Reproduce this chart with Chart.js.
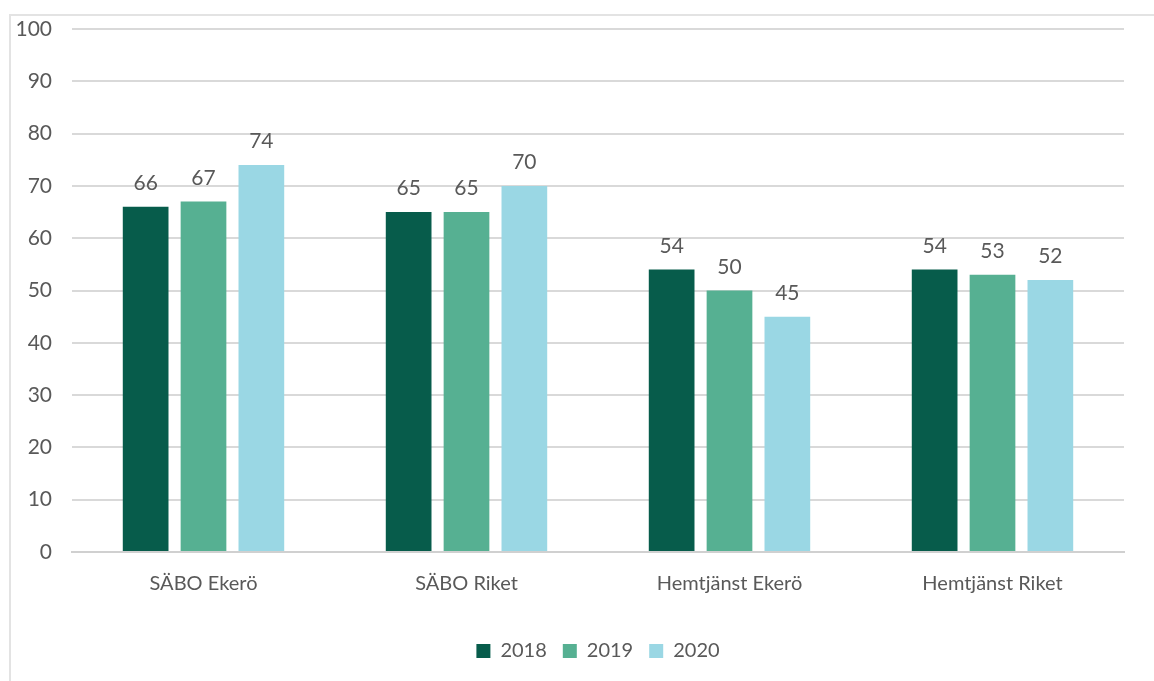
<!DOCTYPE html>
<html>
<head>
<meta charset="utf-8">
<script src="https://cdn.jsdelivr.net/npm/chart.js@4.4.1/dist/chart.umd.min.js"></script>
<style>
  html, body { margin: 0; padding: 0; background: #fff; }
  #wrap { position: relative; width: 1154px; height: 681px; overflow: hidden; }
  #frame {
    position: absolute; left: 9px; top: 14px; right: -4px; bottom: -4px;
    border-top: 2px solid #e3e3e3; border-left: 2px solid #e3e3e3;
  }
  #chart { position: absolute; left: 0; top: 0; }
</style>
</head>
<body>
<div id="wrap">
  <div id="frame"></div>
  <canvas id="chart" width="1154" height="681"></canvas>
</div>
<script>
// categories and series
const categories = ["SÄBO Ekerö", "SÄBO Riket", "Hemtjänst Ekerö", "Hemtjänst Riket"];
const years = ["2018", "2019", "2020"];
const values2018 = [66, 65, 54, 54];
const values2019 = [67, 65, 50, 53];
const values2020 = [74, 70, 45, 52];
const yTicks = [0, 10, 20, 30, 40, 50, 60, 70, 80, 90, 100];

const colors = ["#075c4b", "#56b092", "#9ad7e4"];
const FONT = "Lato, 'Open Sans', sans-serif";

// draws the value above each bar (no datalabels plugin offline)
const valueLabels = {
  id: "valueLabels",
  afterDatasetsDraw(chart) {
    const ctx = chart.ctx;
    ctx.save();
    ctx.font = "21px " + FONT;
    ctx.fillStyle = "#595959";
    ctx.textAlign = "center";
    ctx.textBaseline = "bottom";
    chart.data.datasets.forEach((ds, i) => {
      const meta = chart.getDatasetMeta(i);
      meta.data.forEach((bar, j) => {
        ctx.fillText(String(ds.data[j]), bar.x, bar.y - 13);
      });
    });
    ctx.restore();
  }
};

const seriesValues = [values2018, values2019, values2020];

new Chart(document.getElementById("chart"), {
  type: "bar",
  data: {
    labels: categories,
    datasets: years.map((y, i) => ({
      label: y,
      data: seriesValues[i],
      backgroundColor: colors[i],
      categoryPercentage: 0.66,
      barPercentage: 0.79,
    })),
  },
  options: {
    responsive: false,
    animation: false,
    layout: { padding: { top: 29, right: 30, bottom: 10, left: 0 } },
    plugins: {
      legend: {
        position: "bottom",
        fullSize: false, // centre under the plot area
        labels: {
          font: { size: 20, family: FONT },
          color: "#595959",
          boxWidth: 14,
          boxHeight: 14,
          padding: 16,
        },
      },
      tooltip: { enabled: false },
    },
    scales: {
      x: {
        afterFit(scale) { scale.height += 9; },
        grid: { display: false, drawTicks: false },
        border: { color: "#d0d0d0", width: 2 },
        ticks: { font: { size: 20, family: FONT }, color: "#595959", padding: 20 },
      },
      y: {
        min: 0,
        max: 100,
        afterFit(scale) {
          scale.width = 72;
          scale.paddingTop = 0; // let layout.padding.top place the 100 line
        },
        afterBuildTicks(scale) { scale.ticks = yTicks.map((v) => ({ value: v })); },
        grid: { color: "#d9d9d9", lineWidth: 2, drawTicks: false },
        border: { display: false },
        ticks: { font: { size: 21, family: FONT }, color: "#595959", padding: 20 },
      },
    },
  },
  plugins: [valueLabels],
});
</script>
</body>
</html>
